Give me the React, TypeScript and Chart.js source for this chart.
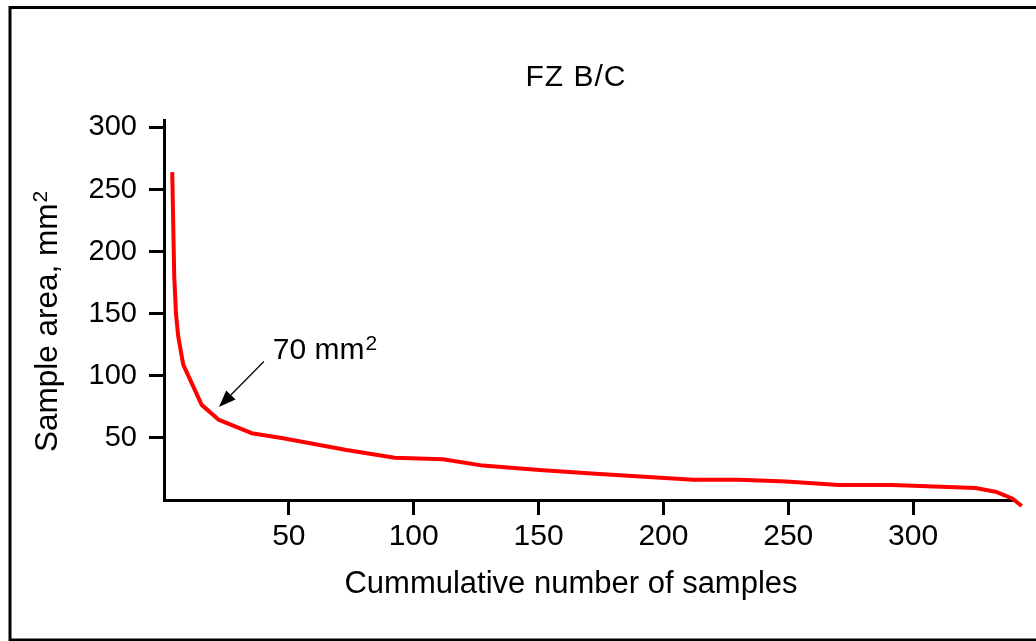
import React, { useEffect, useRef } from 'react';
import { Chart, registerables } from 'chart.js';

Chart.register(...registerables);

const FONT = "'Liberation Sans', Arial, Helvetica, sans-serif";

const chartTitle = 'FZ B/C';
const xAxisTitle = 'Cummulative number of samples';
const yAxisTitle = 'Sample area, mm';
const yAxisTitleSup = '2';

// cumulative number of samples (x) and sample area in mm² (y)
const sampleCounts = [3.3, 4.1, 4.8, 5.7, 7.7, 15.1, 22, 35.1, 47.7, 73.1, 92.4, 111.7, 127.7, 150.4, 174.4, 212, 230.4, 249.1, 270.4, 291.7, 325, 333, 339.7, 343.5];
const sampleAreas = [264, 180, 150, 131.7, 109, 76.6, 64.5, 53.8, 49.7, 40.3, 34.1, 32.8, 27.7, 24.2, 21, 16.3, 16.3, 14.8, 12.1, 12.1, 9.6, 6.7, 1.2, -4.8];

const xTicks = [50, 100, 150, 200, 250, 300];
const yTicks = [50, 100, 150, 200, 250, 300];
const xRange = [0, 340];
const yRange = [0, 306];

// annotation "70 mm²" with arrow (data units)
const annotationText = '70 mm';
const annotationSup = '2';
const arrowTail = [40, 111.5];
const arrowTip = [22, 74.8];
const annotationAnchor = [43.6, 113.5];

const decorPlugin = {
  id: 'decor',
  beforeDraw(chart: any) {
    const ctx = chart.ctx;
    ctx.save();
    ctx.fillStyle = '#ffffff';
    ctx.fillRect(0, 0, chart.width, chart.height);
    ctx.strokeStyle = '#000000';
    ctx.lineWidth = 3;
    ctx.strokeRect(10, 7.5, chart.width + 40, 632.5);
    ctx.restore();
  },
  afterDraw(chart: any) {
    const ctx = chart.ctx;
    const xs = chart.scales.x;
    const ys = chart.scales.y;
    ctx.save();
    ctx.fillStyle = '#000000';

    // chart title
    ctx.font = `30px ${FONT}`;
    (ctx as any).letterSpacing = '1px';
    ctx.textAlign = 'center';
    ctx.textBaseline = 'alphabetic';
    ctx.fillText(chartTitle, 576, 86);
    (ctx as any).letterSpacing = '0px';

    // x axis title
    ctx.font = `31px ${FONT}`;
    ctx.textAlign = 'center';
    ctx.fillText(xAxisTitle, 571, 593);

    // y axis title (rotated) with superscript
    ctx.save();
    ctx.translate(57, 452);
    ctx.rotate(-Math.PI / 2);
    ctx.textAlign = 'left';
    ctx.font = `31.5px ${FONT}`;
    ctx.fillText(yAxisTitle, 0, 0);
    const wMain = ctx.measureText(yAxisTitle).width;
    ctx.font = `21px ${FONT}`;
    ctx.fillText(yAxisTitleSup, wMain + 1, -10);
    ctx.restore();

    // annotation
    const tx = xs.getPixelForValue(arrowTail[0]);
    const ty = ys.getPixelForValue(arrowTail[1]);
    const hx = xs.getPixelForValue(arrowTip[0]);
    const hy = ys.getPixelForValue(arrowTip[1]);
    const ang = Math.atan2(hy - ty, hx - tx);
    const headLen = 17;
    const headHalf = 6.5;
    const bx = hx - headLen * Math.cos(ang);
    const by = hy - headLen * Math.sin(ang);
    ctx.strokeStyle = '#000000';
    ctx.lineWidth = 1.2;
    ctx.beginPath();
    ctx.moveTo(tx, ty);
    ctx.lineTo(bx, by);
    ctx.stroke();
    ctx.beginPath();
    ctx.moveTo(hx, hy);
    ctx.lineTo(bx + headHalf * Math.sin(ang), by - headHalf * Math.cos(ang));
    ctx.lineTo(bx - headHalf * Math.sin(ang), by + headHalf * Math.cos(ang));
    ctx.closePath();
    ctx.fill();

    const ax = xs.getPixelForValue(annotationAnchor[0]);
    const ay = ys.getPixelForValue(annotationAnchor[1]);
    ctx.textAlign = 'left';
    ctx.textBaseline = 'alphabetic';
    ctx.font = `30px ${FONT}`;
    ctx.fillText(annotationText, ax, ay);
    const wa = ctx.measureText(annotationText).width;
    ctx.font = `21px ${FONT}`;
    ctx.fillText(annotationSup, ax + wa + 1, ay - 9);

    ctx.restore();
  },
};

export default function App() {
  const canvasRef = useRef<HTMLCanvasElement | null>(null);

  useEffect(() => {
    const canvas = canvasRef.current;
    if (!canvas) return;
    const points = sampleCounts.map((x, i) => ({ x, y: sampleAreas[i] }));
    const chart = new Chart(canvas, {
      type: 'line',
      data: {
        datasets: [
          {
            data: points,
            borderColor: '#ff0000',
            backgroundColor: '#ff0000',
            borderWidth: 4,
            pointRadius: 0,
            pointHoverRadius: 0,
            tension: 0,
            borderJoinStyle: 'round',
            fill: false,
            clip: false,
          } as any,
        ],
      },
      options: {
        animation: false,
        responsive: false,
        maintainAspectRatio: false,
        devicePixelRatio: 1,
        layout: { padding: { left: 0, top: 120, right: 23, bottom: 0 } },
        plugins: {
          legend: { display: false },
          tooltip: { enabled: false },
          title: { display: false },
        },
        events: [],
        scales: {
          x: {
            type: 'linear',
            min: xRange[0],
            max: xRange[1],
            afterFit: (s: any) => {
              s.height = 141;
            },
            afterBuildTicks: (s: any) => {
              s.ticks = xTicks.map((v) => ({ value: v }));
            },
            grid: {
              display: true,
              drawOnChartArea: false,
              drawTicks: true,
              tickLength: 15,
              color: '#000000',
              lineWidth: 3,
            },
            border: { display: true, color: '#000000', width: 3 },
            ticks: {
              color: '#000000',
              font: { family: FONT, size: 30 },
              padding: 4,
              maxRotation: 0,
              autoSkip: false,
            },
          },
          y: {
            type: 'linear',
            min: yRange[0],
            max: yRange[1],
            afterFit: (s: any) => {
              s.width = 164;
            },
            afterBuildTicks: (s: any) => {
              s.ticks = yTicks.map((v) => ({ value: v }));
            },
            grid: {
              display: true,
              drawOnChartArea: false,
              drawTicks: true,
              tickLength: 15,
              color: '#000000',
              lineWidth: 3,
            },
            border: { display: true, color: '#000000', width: 3 },
            ticks: {
              color: '#000000',
              font: { family: FONT, size: 29 },
              padding: 12,
              autoSkip: false,
            },
          },
        },
      } as any,
      plugins: [decorPlugin],
    });
    return () => chart.destroy();
  }, []);

  return (
    <div style={{ position: 'absolute', left: 0, top: 0, width: 1036, height: 641 }}>
      <canvas ref={canvasRef} width={1036} height={641} style={{ display: 'block', width: 1036, height: 641 }} />
    </div>
  );
}
